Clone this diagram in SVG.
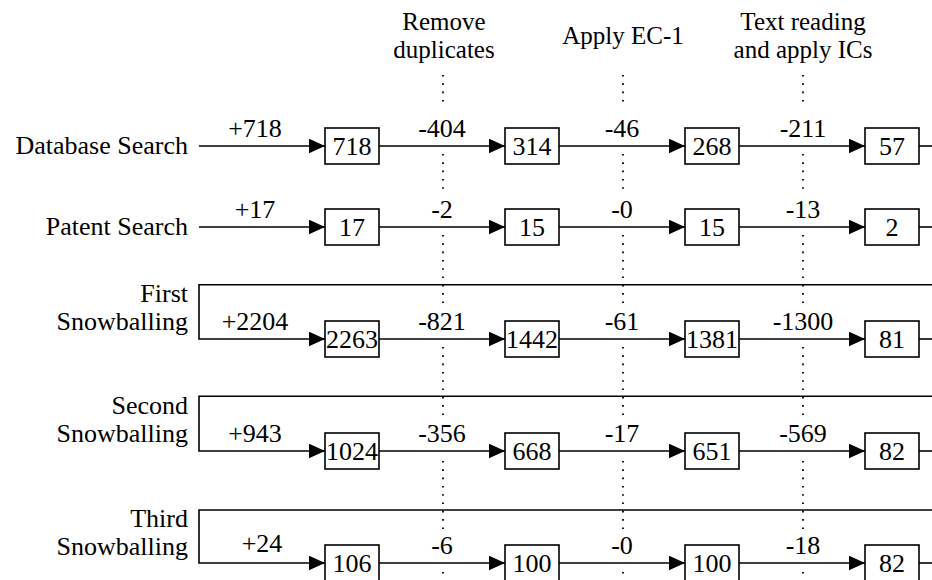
<svg xmlns="http://www.w3.org/2000/svg" width="932" height="580" viewBox="0 0 932 580">
<defs>
<style>
text{font-family:'Liberation Serif',serif;font-size:26px;fill:#000}
.m{text-anchor:middle}
.e{text-anchor:end}
.h{font-size:25px}
.ln{stroke:#000;stroke-width:1.6;fill:none}
.box{fill:#fff;stroke:#000;stroke-width:1.6}
.dot{stroke:#000;stroke-width:1.8;stroke-dasharray:1.6 6.7;fill:none}
</style>
<marker id="ah" markerUnits="userSpaceOnUse" markerWidth="16" markerHeight="15" refX="16" refY="7.3" orient="auto">
<path d="M0,0 L16,7.3 L0,14.6 z" fill="#000"/>
</marker>
</defs>
<rect width="932" height="580" fill="#fff"/>
<g font-family="Liberation Serif, serif" font-size="26">

<g id="headers">
<text class="m h" x="444" y="30">Remove</text>
<text class="m h" x="444" y="58">duplicates</text>
<text class="m h" x="623" y="44">Apply EC-1</text>
<text class="m h" x="803" y="30">Text reading</text>
<text class="m h" x="803" y="58">and apply ICs</text>
</g>

<g id="dotted">
<path class="dot" d="M443,75V108M443,154V195M443,235V303M443,347V416M443,461V530M443,572V580"/>
<path class="dot" d="M623,75V108M623,154V195M623,235V303M623,347V416M623,461V530M623,572V580"/>
<path class="dot" d="M803,75V108M803,154V195M803,235V303M803,347V416M803,461V530M803,572V580"/>
</g>

<g id="sources">
<text class="e" x="188" y="154">Database Search</text>
<text class="e" x="188" y="235">Patent Search</text>
<text class="e" x="188" y="302">First</text>
<text class="e" x="188" y="330">Snowballing</text>
<text class="e" x="188" y="414">Second</text>
<text class="e" x="188" y="442">Snowballing</text>
<text class="e" x="188" y="527">Third</text>
<text class="e" x="188" y="555">Snowballing</text>
</g>

<g id="connectors">
<path class="ln" d="M199,146H325" marker-end="url(#ah)"/>
<path class="ln" d="M379,146H505" marker-end="url(#ah)"/>
<path class="ln" d="M559,146H685" marker-end="url(#ah)"/>
<path class="ln" d="M739,146H865" marker-end="url(#ah)"/>
<path class="ln" d="M919,146H932"/>

<path class="ln" d="M199,227H325" marker-end="url(#ah)"/>
<path class="ln" d="M379,227H505" marker-end="url(#ah)"/>
<path class="ln" d="M559,227H685" marker-end="url(#ah)"/>
<path class="ln" d="M739,227H865" marker-end="url(#ah)"/>
<path class="ln" d="M919,227H932"/>

<path class="ln" d="M932,284.7H199V339H325" marker-end="url(#ah)"/>
<path class="ln" d="M379,339H505" marker-end="url(#ah)"/>
<path class="ln" d="M559,339H685" marker-end="url(#ah)"/>
<path class="ln" d="M739,339H865" marker-end="url(#ah)"/>
<path class="ln" d="M919,339H932"/>

<path class="ln" d="M932,396.3H199V451H325" marker-end="url(#ah)"/>
<path class="ln" d="M379,451H505" marker-end="url(#ah)"/>
<path class="ln" d="M559,451H685" marker-end="url(#ah)"/>
<path class="ln" d="M739,451H865" marker-end="url(#ah)"/>
<path class="ln" d="M919,451H932"/>

<path class="ln" d="M932,510H199V563H325" marker-end="url(#ah)"/>
<path class="ln" d="M379,563H505" marker-end="url(#ah)"/>
<path class="ln" d="M559,563H685" marker-end="url(#ah)"/>
<path class="ln" d="M739,563H865" marker-end="url(#ah)"/>
<path class="ln" d="M919,563H932"/>
</g>

<g id="edge-labels">
<text class="m" x="255" y="137">+718</text>
<text class="m" x="442" y="137">-404</text>
<text class="m" x="622" y="137">-46</text>
<text class="m" x="803" y="137">-211</text>

<text class="m" x="255" y="218">+17</text>
<text class="m" x="442" y="218">-2</text>
<text class="m" x="622" y="218">-0</text>
<text class="m" x="803" y="218">-13</text>

<text class="m" x="255" y="330">+2204</text>
<text class="m" x="442" y="330">-821</text>
<text class="m" x="622" y="330">-61</text>
<text class="m" x="803" y="330">-1300</text>

<text class="m" x="255" y="442">+943</text>
<text class="m" x="442" y="442">-356</text>
<text class="m" x="622" y="442">-17</text>
<text class="m" x="803" y="442">-569</text>

<text class="m" x="262" y="552">+24</text>
<text class="m" x="442" y="554">-6</text>
<text class="m" x="622" y="554">-0</text>
<text class="m" x="803" y="554">-18</text>
</g>

<g id="n1a"><rect class="box" x="325" y="128" width="54" height="36"/><text class="m" x="352" y="155">718</text></g>
<g id="n1b"><rect class="box" x="505" y="128" width="54" height="36"/><text class="m" x="532" y="155">314</text></g>
<g id="n1c"><rect class="box" x="685" y="128" width="54" height="36"/><text class="m" x="712" y="155">268</text></g>
<g id="n1d"><rect class="box" x="865" y="128" width="54" height="36"/><text class="m" x="892" y="155">57</text></g>

<g id="n2a"><rect class="box" x="325" y="209" width="54" height="36"/><text class="m" x="352" y="236">17</text></g>
<g id="n2b"><rect class="box" x="505" y="209" width="54" height="36"/><text class="m" x="532" y="236">15</text></g>
<g id="n2c"><rect class="box" x="685" y="209" width="54" height="36"/><text class="m" x="712" y="236">15</text></g>
<g id="n2d"><rect class="box" x="865" y="209" width="54" height="36"/><text class="m" x="892" y="236">2</text></g>

<g id="n3a"><rect class="box" x="325" y="321" width="54" height="36"/><text class="m" x="352" y="348">2263</text></g>
<g id="n3b"><rect class="box" x="505" y="321" width="54" height="36"/><text class="m" x="532" y="348">1442</text></g>
<g id="n3c"><rect class="box" x="685" y="321" width="54" height="36"/><text class="m" x="712" y="348">1381</text></g>
<g id="n3d"><rect class="box" x="865" y="321" width="54" height="36"/><text class="m" x="892" y="348">81</text></g>

<g id="n4a"><rect class="box" x="325" y="433" width="54" height="36"/><text class="m" x="352" y="460">1024</text></g>
<g id="n4b"><rect class="box" x="505" y="433" width="54" height="36"/><text class="m" x="532" y="460">668</text></g>
<g id="n4c"><rect class="box" x="685" y="433" width="54" height="36"/><text class="m" x="712" y="460">651</text></g>
<g id="n4d"><rect class="box" x="865" y="433" width="54" height="36"/><text class="m" x="892" y="460">82</text></g>

<g id="n5a"><rect class="box" x="325" y="545" width="54" height="36"/><text class="m" x="352" y="572">106</text></g>
<g id="n5b"><rect class="box" x="505" y="545" width="54" height="36"/><text class="m" x="532" y="572">100</text></g>
<g id="n5c"><rect class="box" x="685" y="545" width="54" height="36"/><text class="m" x="712" y="572">100</text></g>
<g id="n5d"><rect class="box" x="865" y="545" width="54" height="36"/><text class="m" x="892" y="572">82</text></g>
</g>
</svg>
